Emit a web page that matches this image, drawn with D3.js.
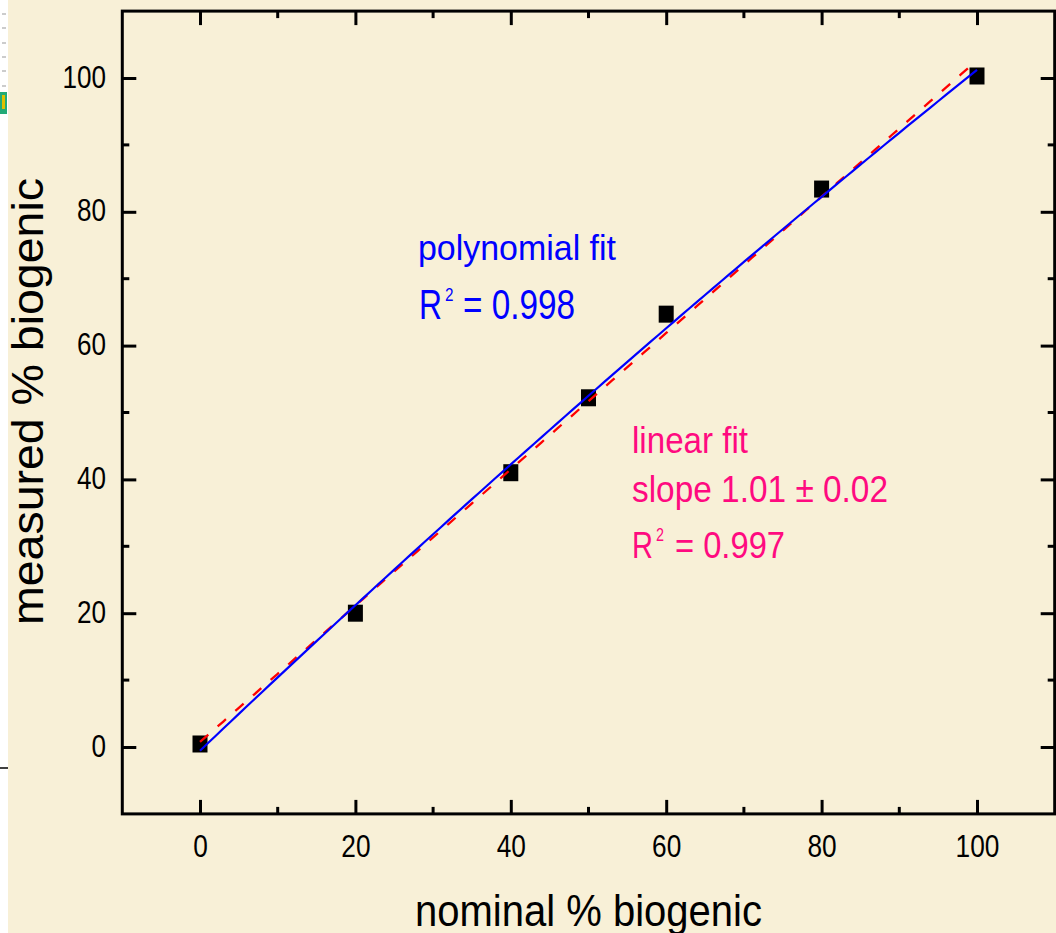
<!DOCTYPE html>
<html><head><meta charset="utf-8">
<script src="https://cdn.jsdelivr.net/npm/d3@7"></script>
<style>html,body{margin:0;padding:0;background:#fff;} svg{display:block}</style>
</head><body>
<svg id="c" width="1056" height="933"></svg>
<script>
// ---- data ----
const nominal  = [0, 20, 40, 50, 60, 80, 100];
const measured = [0.45, 20.0, 41.0, 52.2, 64.7, 83.4, 100.3];
const majorTicks = [0, 20, 40, 60, 80, 100];
const minorTicks = [10, 30, 50, 70, 90];
const xDomain = [-10, 110];
const yDomain = [-10, 110];
// fit coefficients (constant, linear, quadratic)
const polyCoef = [-0.55, 1.1045, -0.00087];
const linCoef  = [0.75, 1.019];
const fitRange = [0, 100];
const xTitle = "nominal % biogenic";
const yTitle = "measured % biogenic";
const polyText = ["polynomial fit", "R", "2", "= 0.998"];
const linText  = ["linear fit", "slope 1.01 \u00b1 0.02", "R", "2", "= 0.997"];

// ---- drawing ----
const svg = d3.select("#c");
const FONT = "'Liberation Sans', Arial, Helvetica, sans-serif";
svg.append("rect").attr("width", 1056).attr("height", 933).attr("fill", "#f8f0d7");
// white strip with remnants of neighbouring figure at the far left
const strip = svg.append("g");
strip.append("rect").attr("width", 8).attr("height", 933).attr("fill", "#ffffff");
strip.selectAll("line.d").data([14, 28, 43, 57, 71, 86]).join("line")
  .attr("x1", 2).attr("x2", 6).attr("y1", d => d).attr("y2", d => d)
  .attr("stroke", "#999").attr("stroke-width", 1);
strip.append("rect").attr("x", 0).attr("y", 92).attr("width", 7).attr("height", 22).attr("fill", "#2a7");
strip.append("rect").attr("x", 2).attr("y", 95).attr("width", 3).attr("height", 14).attr("fill", "#e0c000");
strip.append("line").attr("x1", 0).attr("x2", 8).attr("y1", 768).attr("y2", 768).attr("stroke", "#000").attr("stroke-width", 1.5);

const x = d3.scaleLinear().domain(xDomain).range([122.3, 1054.7]);
const y = d3.scaleLinear().domain(yDomain).range([813.9, 11.1]);

const g = svg.append("g").attr("font-family", FONT);

function txt(px, py, str, size, width, color, anchor) {
  return g.append("text").attr("x", px).attr("y", py)
    .attr("font-size", size).attr("fill", color)
    .attr("text-anchor", anchor || "start")
    .attr("textLength", width).attr("lengthAdjust", "spacingAndGlyphs")
    .text(str);
}

// axes (major ticks, inward)
const tickW = 3;
function styleAxis(sel) {
  sel.select(".domain").remove();
  sel.selectAll(".tick line").attr("stroke", "#000").attr("stroke-width", tickW);
}
const axB = g.append("g").attr("transform", `translate(0,${y(yDomain[0])})`)
  .call(d3.axisBottom(x).tickValues(majorTicks).tickSizeInner(-14).tickSizeOuter(0).tickFormat(d3.format("d")));
styleAxis(axB);
axB.selectAll(".tick text").attr("y", 857 - y(yDomain[0])).attr("dy", 0)
  .attr("font-size", 31).attr("fill", "#000").attr("font-family", FONT)
  .attr("textLength", d => 14.6 * String(d).length).attr("lengthAdjust", "spacingAndGlyphs");

const axL = g.append("g").attr("transform", `translate(${x(xDomain[0])},0)`)
  .call(d3.axisLeft(y).tickValues(majorTicks).tickSizeInner(-14).tickSizeOuter(0).tickFormat(d3.format("d")));
styleAxis(axL);
axL.selectAll(".tick text").attr("x", 106 - x(xDomain[0])).attr("dy", 9)
  .attr("font-size", 31).attr("fill", "#000").attr("font-family", FONT)
  .attr("textLength", d => 14.5 * String(d).length).attr("lengthAdjust", "spacingAndGlyphs");

const axT = g.append("g").attr("transform", `translate(0,${y(yDomain[1])})`)
  .call(d3.axisTop(x).tickValues(majorTicks).tickSizeInner(-14).tickSizeOuter(0).tickFormat(""));
styleAxis(axT);
const axR = g.append("g").attr("transform", `translate(${x(xDomain[1])},0)`)
  .call(d3.axisRight(y).tickValues(majorTicks).tickSizeInner(-14).tickSizeOuter(0).tickFormat(""));
styleAxis(axR);

// minor ticks
const minor = g.append("g").attr("stroke", "#000").attr("stroke-width", tickW);
minor.selectAll("line.mb").data(minorTicks).join("line").attr("class", "mb")
  .attr("x1", d => x(d)).attr("x2", d => x(d)).attr("y1", y(yDomain[0])).attr("y2", y(yDomain[0]) - 7);
minor.selectAll("line.mt").data(minorTicks).join("line").attr("class", "mt")
  .attr("x1", d => x(d)).attr("x2", d => x(d)).attr("y1", y(yDomain[1])).attr("y2", y(yDomain[1]) + 7);
minor.selectAll("line.ml").data(minorTicks).join("line").attr("class", "ml")
  .attr("y1", d => y(d)).attr("y2", d => y(d)).attr("x1", x(xDomain[0])).attr("x2", x(xDomain[0]) + 7);
minor.selectAll("line.mr").data(minorTicks).join("line").attr("class", "mr")
  .attr("y1", d => y(d)).attr("y2", d => y(d)).attr("x1", x(xDomain[1])).attr("x2", x(xDomain[1]) - 7);

// frame
g.append("rect").attr("x", x(xDomain[0])).attr("y", y(yDomain[1]))
  .attr("width", x(xDomain[1]) - x(xDomain[0])).attr("height", y(yDomain[0]) - y(yDomain[1]))
  .attr("fill", "none").attr("stroke", "#000").attr("stroke-width", 3);

// markers
g.selectAll("rect.pt").data(nominal).join("rect").attr("class", "pt")
  .attr("x", d => x(d) - 7.5).attr("y", (d, i) => y(measured[i]) - 8.5)
  .attr("width", 15).attr("height", 17).attr("fill", "#000");

// fit curves
const xs = d3.range(fitRange[0], fitRange[1] + 0.5, 1);
const poly = v => polyCoef[0] + polyCoef[1] * v + polyCoef[2] * v * v;
const lin = v => linCoef[0] + linCoef[1] * v;
const line = d3.line().x(d => x(d[0])).y(d => y(d[1]));
g.append("path").datum(xs.map(v => [v, lin(v)])).attr("d", line)
  .attr("fill", "none").attr("stroke", "#ff0000").attr("stroke-width", 2.3).attr("stroke-dasharray", "11,12.5");
g.append("path").datum(xs.map(v => [v, poly(v)])).attr("d", line)
  .attr("fill", "none").attr("stroke", "#0000ff").attr("stroke-width", 2.2);

// annotations
const blue = "#0000ff", pink = "#ff0a80";
txt(418, 260, polyText[0], 35, 198, blue);
txt(419, 319, polyText[1], 42, 23, blue);
txt(445, 301, polyText[2], 19, 8.5, blue);
txt(463, 319, polyText[3], 42, 112, blue);

txt(632, 453, linText[0], 36, 116, pink);
txt(632, 502, linText[1], 36, 256, pink);
txt(632, 558, linText[2], 37, 21, pink);
txt(656, 541, linText[3], 18, 8, pink);
txt(675, 558, linText[4], 37, 110, pink);

// axis titles
txt(415, 926, xTitle, 44, 347, "#000");
g.append("text").attr("transform", "translate(43,625) rotate(-90)")
  .attr("font-size", 45).attr("fill", "#000")
  .attr("textLength", 447).attr("lengthAdjust", "spacingAndGlyphs")
  .text(yTitle);
</script>
</body></html>
